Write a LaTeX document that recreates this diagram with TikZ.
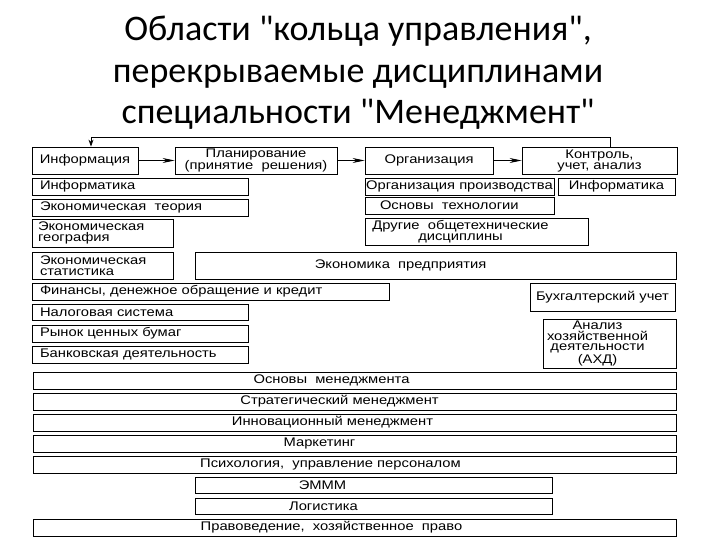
\documentclass[tikz,border=0pt]{standalone}
\usepackage{fontspec}
\setmainfont{Liberation Sans}
\newfontfamily\titlefont{Carlito}
\newfontfamily\boxfont[FakeStretch=1.18]{Liberation Sans}
\usetikzlibrary{arrows.meta}
\newcommand{\bx}{\boxfont\fontsize{12.5}{11}\selectfont}
\tikzset{
  ring/.style={rectangle,draw=black,line width=0.8pt,align=center,inner sep=0pt,
    font=\bx,minimum height=27pt},
  disc/.style={rectangle,draw=black,line width=0.8pt,inner sep=0pt,
    font=\bx,minimum height=17pt},
  lft/.style={align=left,text width=#1},
  row/.style={disc,minimum width=643pt},
  half/.style={disc,minimum width=357pt,minimum height=16pt},
  lbl/.style={font=\bx,inner sep=0pt},
  ar/.style={-{Stealth[length=12pt,width=5pt]},line width=0.8pt},
  arl/.style={-{Stealth[length=7pt,width=5pt]},line width=0.8pt},
}

\begin{document}
\begin{tikzpicture}[x=1pt,y=-1pt]
  \useasboundingbox (0,0) rectangle (720,540);
  \node[font=\titlefont\fontsize{36}{41.5}\selectfont,align=center] (title) at (358,73)
    {Области "кольца управления",\\перекрываемые дисциплинами\\специальности "Менеджмент"};
  % ring
  \node[ring,minimum width=106pt] (info) at (85,160.5) {Информация};
  \node[ring,minimum width=162pt] (plan) at (256,160.5) {Планирование\\(принятие~~решения)};
  \node[ring,minimum width=128pt] (org) at (429,160.5) {Организация};
  \node[ring,minimum width=155pt] (ctrl) at (599.5,160.5) {Контроль,\\учет, анализ};
  \draw[ar] (info) -- (plan);
  \draw[ar] (plan) -- (org);
  \draw[ar] (org) -- (ctrl);
  \draw[arl] ([xshift=10.5pt]ctrl.north) -- ++(0,-9) -| ([xshift=6pt]info.north);
  % disciplines
  \node[disc,minimum width=216pt,lft=200pt] (infk) at (140,186.5) {Информатика};
  \node[disc,minimum width=216pt,lft=200pt] (ecth) at (140,207.5) {Экономическая~~теория};
  \node[disc,minimum width=141pt,minimum height=28pt,lft=129pt] (ecgeo) at (102.5,233) {Экономическая\\география};
  \node[disc,minimum width=141pt,minimum height=27pt,lft=125pt] (ecstat) at (102.5,265.5) {Экономическая\\статистика};
  \node[disc,minimum width=481pt,minimum height=27pt,
    label={[lbl,xshift=-35pt]center:Экономика~~предприятия}] (ecent) at (435.5,265.5) {};
  \node[disc,minimum width=189pt] (orgpr) at (459.5,186.5) {Организация производства};
  \node[disc,minimum width=117pt] (inf3) at (616.5,186.5) {Информатика};
  \node[disc,minimum width=189pt,lft=159pt] (osntech) at (459.5,205.5) {Основы~~технологии};
  \node[disc,minimum width=223pt,minimum height=27pt,
    label={[lbl,align=center,xshift=-16pt]center:Другие~~общетехнические\\дисциплины}] (other) at (476.5,231.5) {};
  \node[disc,minimum width=357pt,lft=341pt] (fin) at (210.5,291.5) {Финансы, денежное обращение и кредит};
  \node[disc,minimum width=145pt,minimum height=28pt] (buh) at (602.5,297) {Бухгалтерский учет};
  \node[disc,minimum width=216pt,minimum height=16pt,lft=200pt] (tax) at (140,312) {Налоговая система};
  \node[disc,minimum width=216pt,lft=200pt] (sec) at (140,333.5) {Рынок ценных бумаг};
  \node[disc,minimum width=216pt,lft=200pt] (bank) at (140,354.5) {Банковская деятельность};
  \node[disc,minimum width=133pt,minimum height=49pt,
    label={[lbl,align=center,xshift=-12pt,font=\boxfont\fontsize{12.5}{10.5}\selectfont]center:Анализ\\хозяйственной\\деятельности\\(АХД)}] (ahd) at (609.5,343.5) {};
  % management rows
  \node[row,label={[lbl,xshift=-23pt]center:Основы~~менеджмента}] (osnm) at (354.5,380.5) {};
  \node[row,label={[lbl,xshift=-15pt]center:Стратегический менеджмент}] (strat) at (354.5,401.5) {};
  \node[row,label={[lbl,xshift=-22pt]center:Инновационный менеджмент}] (innov) at (354.5,422.5) {};
  \node[row,label={[lbl,xshift=-35pt]center:Маркетинг}] (mark) at (354.5,443.5) {};
  \node[row,label={[lbl,xshift=-24pt]center:Психология,~~управление персоналом}] (psych) at (354.5,464.5) {};
  \node[half,label={[lbl,xshift=-51pt]center:ЭМММ}] (emmm) at (373.5,485.5) {};
  \node[half,label={[lbl,xshift=-50pt]center:Логистика}] (logi) at (373.5,506.5) {};
  \node[row,label={[lbl,xshift=-23pt]center:Правоведение,~~хозяйственное~~право}] (law) at (354.5,527.5) {};
\end{tikzpicture}
\end{document}
